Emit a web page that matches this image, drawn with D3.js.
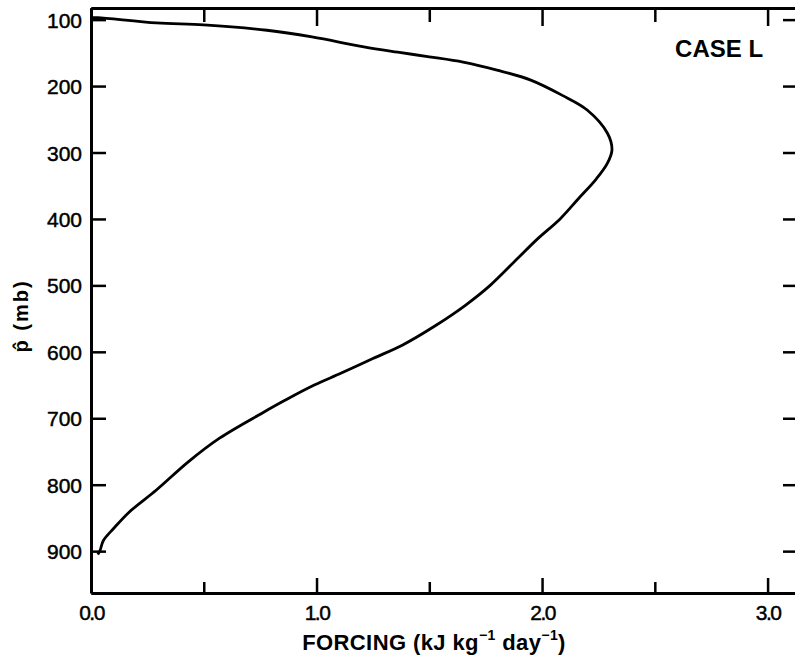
<!DOCTYPE html>
<html>
<head>
<meta charset="utf-8">
<script src="https://cdn.jsdelivr.net/npm/d3@7"></script>
<style>
    body { margin: 0; background: #fff; }
    text { font-family: "Liberation Sans", Arial, sans-serif; fill: #000; }
    .axis path, .axis line { stroke: #000; }
    .tick text { stroke: #000; stroke-width: 0.45px; }
</style>
</head>
<body>
<div id="chart"></div>
<script>
// forcing profile (kJ kg-1 day-1 vs p-hat in mb)
const forcing  = [0.00, 0.03, 0.29, 0.50, 0.78, 0.98, 1.21, 1.36, 1.50, 1.65, 1.80, 1.95, 2.09, 2.20, 2.29, 2.31,
                  2.29, 2.24, 2.16, 2.08, 1.98, 1.89, 1.77, 1.66, 1.53, 1.38, 1.25, 1.11, 0.99, 0.86, 0.76,
                  0.57, 0.43, 0.29, 0.17, 0.10, 0.055, 0.04, 0.03];
const pressure = [97, 97, 105, 108, 116, 126, 141, 149, 156, 164, 176, 191, 214, 236, 271, 296,
                  316, 340, 370, 400, 430, 460, 500, 530, 560, 590, 610, 632, 650, 673, 692,
                  730, 766, 808, 841, 866, 884, 899, 905];

const xMajor = [0, 1, 2, 3];
const xMajorLabels = ["0.0", "1.0", "2.0", "3.0"];
const xMinor = [0.5, 1.5, 2.5];
const yMajor = [100, 200, 300, 400, 500, 600, 700, 800, 900];
const caseLabel = "CASE L";

const W = 795, H = 659;

const svg = d3.select("#chart").append("svg")
    .attr("width", W)
    .attr("height", H);

// scales (axes box runs off the right edge of the page)
const x = d3.scaleLinear().domain([0, 3.126]).range([91, 796]);
const y = d3.scaleLinear().domain([82.5, 963]).range([8, 593]);

// bottom axis, major ticks with labels
const xBottom = svg.append("g")
    .attr("class", "axis")
    .attr("transform", "translate(0," + y.range()[1] + ")")
    .call(d3.axisBottom(x).tickValues(xMajor).tickSizeInner(-15).tickSizeOuter(0)
        .tickPadding(27).tickFormat((d, i) => xMajorLabels[i]));
xBottom.selectAll("text")
    .attr("font-size", 21)
    .attr("letter-spacing", "-1.5px")
    .attr("dy", 0);

svg.append("g")
    .attr("class", "axis")
    .attr("transform", "translate(0," + y.range()[1] + ")")
    .call(d3.axisBottom(x).tickValues(xMinor).tickSizeInner(-11).tickSizeOuter(0).tickFormat(""));

// top axis
svg.append("g")
    .attr("class", "axis")
    .attr("transform", "translate(0," + y.range()[0] + ")")
    .call(d3.axisTop(x).tickValues(xMajor).tickSizeInner(-18).tickSizeOuter(0).tickFormat(""));
svg.append("g")
    .attr("class", "axis")
    .attr("transform", "translate(0," + y.range()[0] + ")")
    .call(d3.axisTop(x).tickValues(xMinor).tickSizeInner(-14).tickSizeOuter(0).tickFormat(""));

// left axis with labels
const yLeft = svg.append("g")
    .attr("class", "axis")
    .attr("transform", "translate(" + x.range()[0] + ",0)")
    .call(d3.axisLeft(y).tickValues(yMajor).tickSizeInner(-15).tickSizeOuter(0).tickPadding(9));
yLeft.selectAll("text")
    .attr("font-size", 21)
    .attr("dy", "0.36em");

// right axis
svg.append("g")
    .attr("class", "axis")
    .attr("transform", "translate(" + x.range()[1] + ",0)")
    .call(d3.axisRight(y).tickValues(yMajor).tickSizeInner(-13).tickSizeOuter(0).tickFormat(""));

svg.selectAll(".axis path").attr("stroke-width", 3);
svg.selectAll(".axis line").attr("stroke-width", 2.5);

// the profile
const line = d3.line()
    .x((d, i) => x(forcing[i]))
    .y(d => y(d))
    .curve(d3.curveCatmullRom.alpha(0.5));

svg.append("path")
    .attr("d", line(pressure))
    .attr("fill", "none")
    .attr("stroke", "#000")
    .attr("stroke-width", 2.8)
    .attr("stroke-linejoin", "round");

// annotation
svg.append("text")
    .attr("x", x(2.59))
    .attr("y", y(156))
    .attr("font-size", 24)
    .attr("font-weight", "bold")
    .text(caseLabel);

// axis titles
const xt = svg.append("text")
    .attr("x", 434)
    .attr("y", 650)
    .attr("text-anchor", "middle")
    .attr("font-size", 22)
    .attr("font-weight", "bold")
    .attr("letter-spacing", "0.4px");
xt.append("tspan").text("FORCING (kJ kg");
xt.append("tspan").attr("font-size", 14).attr("dy", -10).text("\u22121");
xt.append("tspan").attr("dy", 10).text(" day");
xt.append("tspan").attr("font-size", 14).attr("dy", -10).text("\u22121");
xt.append("tspan").attr("dy", 10).text(")");

svg.append("text")
    .attr("transform", "translate(28,316) rotate(-90)")
    .attr("text-anchor", "middle")
    .attr("font-size", 20)
    .attr("font-weight", "bold")
    .attr("letter-spacing", "2px")
    .text("p\u0302 (mb)");
</script>
</body>
</html>
